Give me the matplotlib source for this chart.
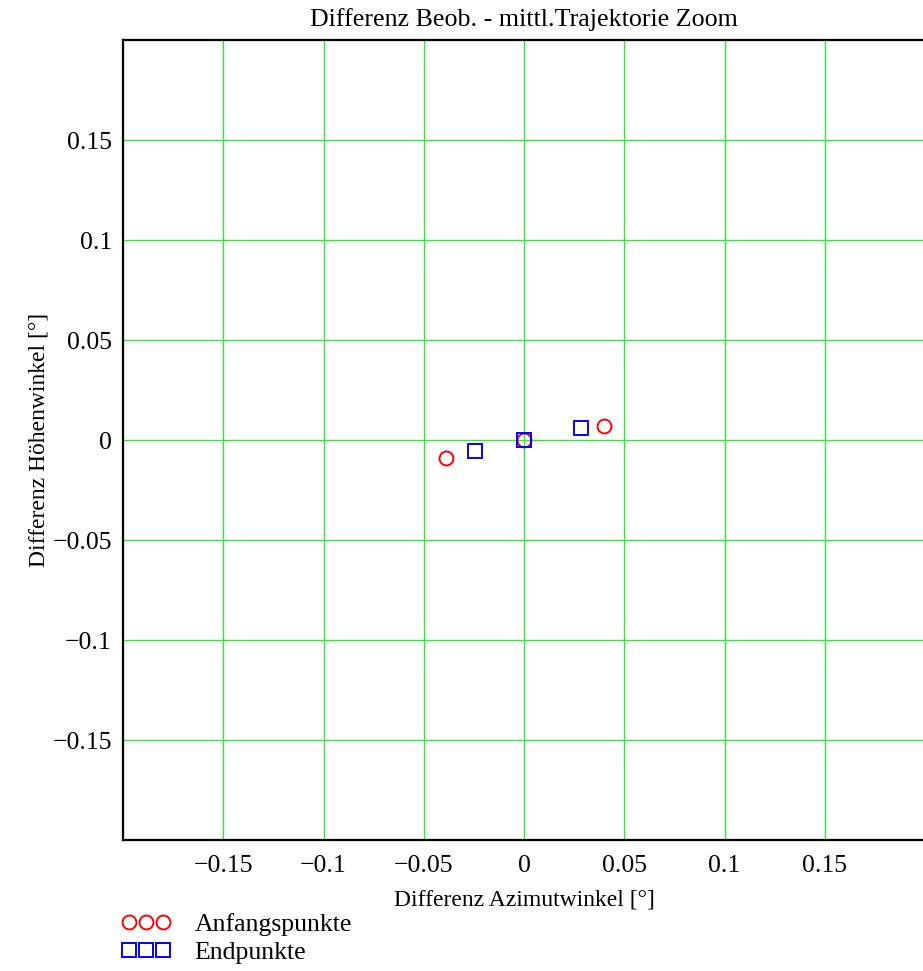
import matplotlib
matplotlib.use("Agg")
import matplotlib.pyplot as plt

# data
start_az = [-0.0387, 0.0, 0.0400]
start_el = [-0.0092, 0.0, 0.0068]
end_az = [-0.0242, 0.0, 0.0283]
end_el = [-0.0053, 0.0, 0.0058]
ticks = [-0.15, -0.1, -0.05, 0, 0.05, 0.1, 0.15]
tick_labels = ["\u22120.15", "\u22120.1", "\u22120.05", "0", "0.05", "0.1", "0.15"]

plt.rcParams['font.family'] = ['Liberation Serif', 'DejaVu Serif']

fig = plt.figure(figsize=(9.23, 9.71), dpi=100)
ax = fig.add_axes([123 / 923, 1 - 840 / 971, 802 / 923, 800 / 971])

ax.plot(start_az, start_el, 'o', mfc='none', mec='#ff0000', ms=10, mew=1.4,
        label='Anfangspunkte', zorder=3)
ax.plot(end_az, end_el, 's', mfc='none', mec='#0000ff', ms=9.5, mew=1.4,
        label='Endpunkte', zorder=3)

ax.set_xlim(-0.2, 0.2)
ax.set_ylim(-0.2, 0.2)
ax.set_xticks(ticks)
ax.set_xticklabels(tick_labels)
ax.set_yticks(ticks)
ax.set_yticklabels(tick_labels)
ax.tick_params(length=0, labelsize=18.5)
ax.tick_params(axis='x', pad=11)
ax.tick_params(axis='y', pad=8)
ax.grid(True, color='#33e633', lw=1)
ax.set_axisbelow(True)

for s in ['left', 'bottom', 'top']:
    ax.spines[s].set_linewidth(1.6)
ax.spines['right'].set_visible(False)

ax.set_title('Differenz Beob. - mittl.Trajektorie Zoom', fontsize=18.7, pad=10)
ax.set_xlabel('Differenz Azimutwinkel [\u00b0]', fontsize=17, labelpad=9)
ax.set_ylabel('Differenz H\u00f6henwinkel [\u00b0]', fontsize=17)
ax.yaxis.set_label_coords(-0.092, 0.5)

fig.legend(loc='upper left', bbox_to_anchor=(121 / 923, 1 - 913 / 971),
           numpoints=3, frameon=False, handlelength=1.92, handletextpad=0.95,
           labelspacing=0.18, borderpad=0, borderaxespad=0, fontsize=18.5,
           markerscale=1.0)

fig.savefig('out.png', dpi=100)
